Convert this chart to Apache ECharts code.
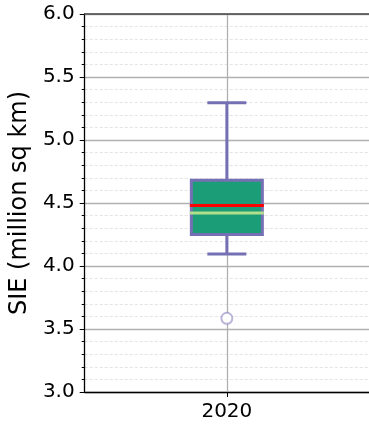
<!DOCTYPE html>
<html><head><meta charset="utf-8">
<script src="https://cdn.jsdelivr.net/npm/echarts@6/dist/echarts.min.js"></script>
<style>html,body{margin:0;padding:0;background:#fff}#c{width:369px;height:425px}</style>
</head><body><div id="c"></div>
<script>
const categories = ['2020'];
const boxValues = [[4.095, 4.25, 4.48, 4.68, 5.295]]; // min, Q1, median, Q3, max
const means = [4.42];
const outliers = [[0, 3.585]];
const yTicks = {min: 3.0, max: 6.0, interval: 0.5};

const chart = echarts.init(document.getElementById('c'), null, {renderer: 'canvas'});
const font = 'DejaVu Sans';
const purple = '#7570b3';
const BOX_W = 71, CAP_W = 39;

chart.setOption({
  animation: false,
  grid: {left: 84, right: -3, top: 14, bottom: 33},
  xAxis: {
    type: 'category', data: categories,
    axisLine: {show: true, lineStyle: {color: '#000', width: 1.3}},
    axisTick: {show: true, alignWithLabel: true, length: 5, lineStyle: {color: '#000'}},
    axisLabel: {fontFamily: font, fontSize: 20, color: '#000', margin: 10},
    splitLine: {show: false}
  },
  yAxis: [{
    type: 'value', min: yTicks.min, max: yTicks.max, interval: yTicks.interval,
    name: 'SIE (million sq km)', nameLocation: 'middle', nameGap: 50,
    nameTextStyle: {fontFamily: font, fontSize: 24, color: '#000'},
    axisLine: {show: true, lineStyle: {color: '#000', width: 1.3}},
    axisTick: {show: true, length: 5, lineStyle: {color: '#000'}},
    minorTick: {show: true, splitNumber: 5, length: 3, lineStyle: {color: '#000'}},
    axisLabel: {fontFamily: font, fontSize: 20, color: '#000', margin: 10, formatter: v => v.toFixed(1)},
    splitLine: {show: true, lineStyle: {color: '#b0b0b0', width: 1.3}},
    minorSplitLine: {show: true, lineStyle: {color: '#e4e4e4', width: 1, type: [3, 2]}}
  }],
  graphic: [{type: 'line', shape: {x1: 84, y1: 14, x2: 369, y2: 14}, style: {stroke: '#444', lineWidth: 1.3}, z: 10}],
  series: [
    {
      type: 'custom', z: 3, silent: true,
      data: boxValues.map((b, i) => [i].concat(b, [means[i]])),
      renderItem: function (params, api) {
        const x = api.value(0);
        const p = k => api.coord([x, api.value(k)]);
        const lo = p(1), q1 = p(2), med = p(3), q3 = p(4), hi = p(5), mn = p(6);
        const cx = lo[0];
        const bh = BOX_W / 2, ch = CAP_W / 2;
        const ls = (c, w) => ({stroke: c, lineWidth: w, fill: null});
        return {type: 'group', children: [
          {type: 'line', shape: {x1: cx, y1: hi[1], x2: cx, y2: q3[1]}, style: ls(purple, 3)},
          {type: 'line', shape: {x1: cx, y1: q1[1], x2: cx, y2: lo[1]}, style: ls(purple, 3)},
          {type: 'line', shape: {x1: cx - ch, y1: hi[1], x2: cx + ch, y2: hi[1]}, style: ls(purple, 3)},
          {type: 'line', shape: {x1: cx - ch, y1: lo[1], x2: cx + ch, y2: lo[1]}, style: ls(purple, 3)},
          {type: 'rect', shape: {x: cx - bh, y: q3[1], width: BOX_W, height: q1[1] - q3[1]},
            style: {fill: '#1b9e77', stroke: purple, lineWidth: 3}},
          {type: 'line', shape: {x1: cx - bh - 1.5, y1: med[1], x2: cx + bh + 1.5, y2: med[1]}, style: ls('#ff0000', 3)},
          {type: 'line', shape: {x1: cx - bh - 1.5, y1: mn[1], x2: cx + bh + 1.5, y2: mn[1]}, style: ls('#b2df8a', 3)}
        ]};
      },
      markLine: {silent: true, symbol: 'none', label: {show: false}, z: 1,
        lineStyle: {color: '#b0b0b0', width: 1.3, type: 'solid'},
        data: [{xAxis: '2020'}]}
    },
    {
      type: 'scatter', data: outliers, symbol: 'circle', symbolSize: 11, z: 4, silent: true,
      itemStyle: {color: '#ffffff', borderColor: 'rgba(117,112,179,0.5)', borderWidth: 2, opacity: 1}
    }
  ]
});
</script></body></html>
